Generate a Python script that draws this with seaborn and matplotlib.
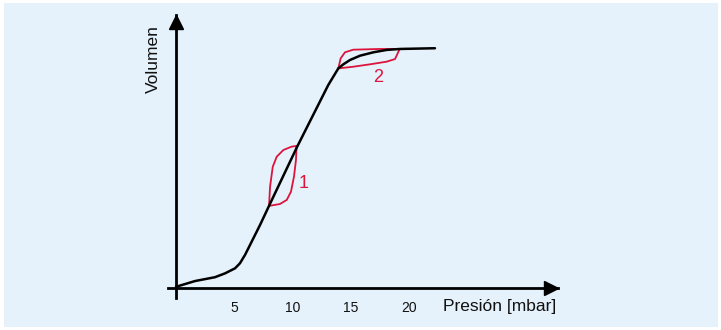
import numpy as np
import pandas as pd
import matplotlib
matplotlib.use("Agg")
import matplotlib.pyplot as plt
import matplotlib.patches as mpatches
from matplotlib.transforms import offset_copy
import seaborn as sns

# ---- data -------------------------------------------------------------
curve_x = [0.0, 1.63, 3.34, 4.2, 5.06, 5.48, 5.91, 6.34, 7.2, 7.97, 10.37,
           13.05, 13.91, 14.34, 14.91, 15.77, 16.91, 18.05, 19.19, 22.19]
curve_y = [0.5, 2.9, 4.5, 6.1, 8.2, 10.3, 13.75, 17.9, 26.25, 34.2, 58.75,
           84.6, 91.5, 93.2, 95.0, 96.8, 98.2, 99.2, 99.6, 99.9]

loop1_x = [7.97, 8.06, 8.29, 8.63, 9.20, 9.91, 10.33,
           10.28, 10.11, 9.85, 9.49, 8.91, 7.97]
loop1_y = [34.2, 42.2, 50.5, 54.7, 57.5, 58.9, 59.2,
           53.3, 46.4, 40.1, 36.7, 35.0, 34.2]

loop2_x = [13.91, 15.19, 16.62, 18.05, 18.77, 19.13, 19.19,
           17.48, 15.19, 14.48, 14.11, 13.91]
loop2_y = [91.5, 92.2, 93.2, 94.3, 95.4, 99.2, 99.6,
           99.6, 99.3, 98.2, 95.7, 91.5]

loop_labels = ["1", "2"]
loop_label_x = [10.9, 17.3]
loop_label_y = [43.5, 87.5]

x_ticks = [5, 10, 15, 20]
x_label = "Presión [mbar]"
y_label = "Volumen"

# ---- style ------------------------------------------------------------
sns.set_theme(style="white")
plt.rcParams["font.family"] = ["Liberation Sans", "DejaVu Sans"]

BG = "#e5f2fb"
RED = "#dc143c"
W, H = 721, 330

fig = plt.figure(figsize=(W / 100, H / 100), dpi=100)
fig.patch.set_facecolor("white")
bg = mpatches.Rectangle((4 / W, 3 / H), 714 / W, 324 / H,
                        transform=fig.transFigure,
                        facecolor=BG, edgecolor="none", zorder=-10)
fig.patches.append(bg)

ax = fig.add_axes([168 / W, (H - 298) / H, (558 - 168) / W, (298 - 15) / H])
ax.set_zorder(5)
ax.set_facecolor("none")

df_curve = pd.DataFrame({"x": curve_x, "y": curve_y})
df_l1 = pd.DataFrame({"x": loop1_x, "y": loop1_y})
df_l2 = pd.DataFrame({"x": loop2_x, "y": loop2_y})

sns.lineplot(data=df_curve, x="x", y="y", sort=False, estimator=None,
             color="black", linewidth=1.8, ax=ax, zorder=3)
sns.lineplot(data=df_l1, x="x", y="y", sort=False, estimator=None,
             color=RED, linewidth=1.3, ax=ax, zorder=2)
sns.lineplot(data=df_l2, x="x", y="y", sort=False, estimator=None,
             color=RED, linewidth=1.3, ax=ax, zorder=2)

for t, tx, ty in zip(loop_labels, loop_label_x, loop_label_y):
    ax.text(tx, ty, t, color=RED, fontsize=13, ha="center", va="center")

px_x = 11.67  # pixels per mbar
px_y = 2.4    # pixels per volume unit
ax.set_xlim((168 - 176) / px_x, (558 - 176) / px_x)
ax.set_ylim((288 - 298) / px_y, (288 - 15) / px_y)

for s in ["top", "right"]:
    ax.spines[s].set_visible(False)
for s in ["left", "bottom"]:
    ax.spines[s].set_position(("data", 0))
    ax.spines[s].set_color("black")
    ax.spines[s].set_linewidth(2)

ax.set_xticks(x_ticks)
ax.set_xticklabels([str(v) for v in x_ticks])
ax.set_yticks([])
ax.tick_params(axis="x", length=0, pad=9, labelsize=10, labelcolor="#111111")

# arrow heads
ax.plot(1, 0, marker=">", markersize=10.5, color="black", clip_on=False,
        transform=offset_copy(ax.get_yaxis_transform(), fig=fig, x=-7, y=0, units="dots"))
ax.plot(0, 1, marker="^", markersize=10.5, color="black", clip_on=False,
        transform=offset_copy(ax.get_xaxis_transform(), fig=fig, x=0, y=-7, units="dots"))

ax.set_xlabel(x_label, fontsize=12.5, color="#111111", ha="left", va="center")
ax.xaxis.set_label_coords((443 - 168) / (558 - 168), (298 - 306) / (298 - 15))
ax.set_ylabel(y_label, fontsize=12.5, color="#111111", va="center", ha="center")
ax.yaxis.set_label_coords((153 - 168) / (558 - 168), (298 - 59) / (298 - 15))

fig.savefig("out.png", dpi=100, facecolor=fig.get_facecolor())
